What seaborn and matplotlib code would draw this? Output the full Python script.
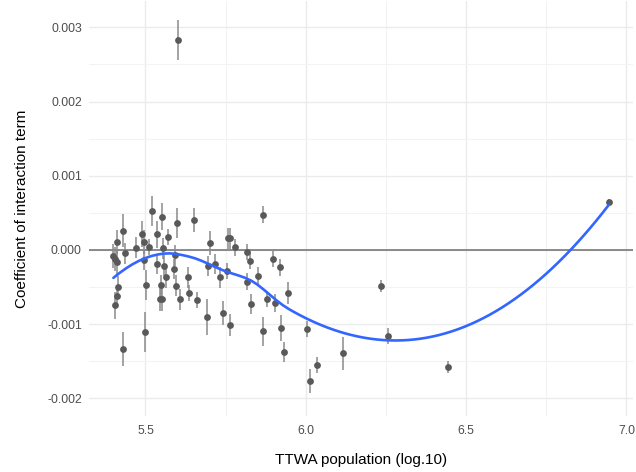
import numpy as np
import pandas as pd
import matplotlib
matplotlib.use("Agg")
import matplotlib.pyplot as plt
import seaborn as sns
from matplotlib.ticker import FuncFormatter, MultipleLocator

# ---- data ----
log_pop = [5.400, 5.405, 5.412, 5.410, 5.415, 5.412, 5.404, 5.430, 5.436, 5.431,
           5.470, 5.489, 5.495, 5.496, 5.502, 5.499, 5.510, 5.519, 5.535, 5.537,
           5.552, 5.548, 5.545, 5.552, 5.555, 5.558, 5.563, 5.569, 5.592, 5.589,
           5.596, 5.597, 5.600, 5.607, 5.633, 5.636, 5.652, 5.660, 5.691, 5.696,
           5.701, 5.717, 5.732, 5.741, 5.753, 5.757, 5.763, 5.763, 5.779, 5.818,
           5.826, 5.816, 5.830, 5.851, 5.867, 5.865, 5.879, 5.899, 5.905, 5.919,
           5.922, 5.933, 5.945, 6.003, 6.012, 6.036, 6.116, 6.234, 6.255, 6.442,
           6.945]
coef = [-0.000081, -0.000125, -0.000166, 0.000104, -0.000495, -0.000620, -0.000745, 0.000260, -0.000044, -0.001334,
        0.000031, 0.000216, 0.000104, -0.000135, -0.000468, -0.001105, 0.000036, 0.000526, -0.000189, 0.000212,
        0.000449, -0.000476, -0.000656, -0.000660, 0.000023, -0.000212, -0.000368, 0.000171, -0.000071, -0.000256,
        -0.000481, 0.000368, 0.002830, -0.000664, -0.000368, -0.000584, 0.000404, -0.000678, -0.000899, -0.000216,
        0.000090, -0.000189, -0.000368, -0.000853, -0.000283, 0.000155, 0.000155, -0.001015, 0.000034, -0.000027,
        -0.000144, -0.000425, -0.000728, -0.000344, 0.000478, -0.001098, -0.000664, -0.000125, -0.000710, -0.000236,
        -0.001051, -0.001375, -0.000584, -0.001065, -0.001761, -0.001554, -0.001392, -0.000481, -0.001163, -0.001573,
        0.000651]
half_ci = [0.00016, 0.00016, 0.00016, 0.00016, 0.00014, 0.00014, 0.00018, 0.00022, 0.00014, 0.00023,
           0.00014, 0.00018, 0.00016, 0.00014, 0.00020, 0.00027, 0.00011, 0.00020, 0.00014, 0.00018,
           0.00018, 0.00014, 0.00016, 0.00016, 0.00014, 0.00014, 0.00014, 0.00011, 0.00014, 0.00014,
           0.00014, 0.00020, 0.00027, 0.00014, 0.00014, 0.00011, 0.00016, 0.00011, 0.00024, 0.00014,
           0.00016, 0.00014, 0.00014, 0.00016, 0.00011, 0.00014, 0.00014, 0.00015, 0.00011, 0.00011,
           0.00011, 0.00011, 0.00014, 0.00011, 0.00011, 0.00020, 0.00011, 0.00011, 0.00012, 0.00012,
           0.00018, 0.00014, 0.00015, 0.00011, 0.00016, 0.00011, 0.00022, 0.00008, 0.00011, 0.00008,
           0.00004]

x_ticks = [5.5, 6.0, 6.5, 7.0]
y_ticks = [-0.002, -0.001, 0.000, 0.001, 0.002, 0.003]

df = pd.DataFrame({"log_pop": log_pop, "coef": coef, "half_ci": half_ci})
df["lo"] = df["coef"] - df["half_ci"]
df["hi"] = df["coef"] + df["half_ci"]


# ---- loess (degree 2, span 0.75) with kd-tree vertices + Hermite interpolation, like R ----
def local_fit(x, y, x0, q):
    d = np.abs(x - x0)
    h = np.sort(d)[q - 1]
    w = np.clip(1 - (d / h) ** 3, 0, None) ** 3
    X = np.vstack([np.ones(len(x)), x - x0, (x - x0) ** 2]).T
    sw = np.sqrt(w)
    beta = np.linalg.lstsq(X * sw[:, None], y * sw, rcond=None)[0]
    return beta[0], beta[1]


def loess_interp(x, y, xs, span=0.75, cell=0.2):
    x = np.asarray(x, float)
    y = np.asarray(y, float)
    n = len(x)
    q = int(np.floor(n * span + 1e-5))
    fc = int(np.floor(n * span * cell))
    xsorted = np.sort(x)
    rng = xsorted[-1] - xsorted[0]
    lo_b = xsorted[0] - 0.005 * rng
    hi_b = xsorted[-1] + 0.005 * rng
    verts = {lo_b, hi_b}

    def split(l, u, vlo, vhi):
        if (u - l + 1) <= fc:
            return
        m = (l + u) // 2
        offset = 0
        while l <= m + offset < u:
            if xsorted[m + offset - 1] == xsorted[m + offset]:
                offset = -offset
                if offset >= 0:
                    offset += 1
            else:
                m = m + offset
                break
        xi = xsorted[m - 1]
        if xi == vlo or xi == vhi:
            return
        verts.add(xi)
        split(l, m, vlo, xi)
        split(m + 1, u, xi, vhi)

    split(1, n, lo_b, hi_b)
    v = np.array(sorted(verts))
    vals = np.array([local_fit(x, y, vv, q) for vv in v])
    f, s = vals[:, 0], vals[:, 1]
    out = []
    for x0 in xs:
        i = min(np.searchsorted(v, x0, side="right") - 1, len(v) - 2)
        i = max(i, 0)
        a, b = v[i], v[i + 1]
        hh = b - a
        t = (x0 - a) / hh
        h00 = 2 * t**3 - 3 * t**2 + 1
        h10 = t**3 - 2 * t**2 + t
        h01 = -2 * t**3 + 3 * t**2
        h11 = t**3 - t**2
        out.append(h00 * f[i] + h10 * hh * s[i] + h01 * f[i + 1] + h11 * hh * s[i + 1])
    return np.array(out)


grid_x = np.linspace(df["log_pop"].min(), df["log_pop"].max(), 80)
smooth = pd.DataFrame({"log_pop": grid_x,
                       "fit": loess_interp(df["log_pop"], df["coef"], grid_x)})

# ---- plot ----
sns.set_theme(style="whitegrid")
plt.rcParams["font.family"] = ["Liberation Sans", "DejaVu Sans"]

fig = plt.figure(figsize=(6.36, 4.72), dpi=100)
ax = fig.add_axes([88.7 / 636, 1 - 416.2 / 472, (632.9 - 88.7) / 636, (416.2 - 1.4) / 472])
ax.set_facecolor("white")

ax.axhline(0, color="#6e6e6e", lw=1.1, zorder=1)
ax.vlines(df["log_pop"], df["lo"], df["hi"], color="#8a8a8a", lw=1.1, zorder=2)
sns.scatterplot(data=df, x="log_pop", y="coef", ax=ax, color="#595959", s=24,
                linewidth=0, zorder=3, legend=False)
sns.lineplot(data=smooth, x="log_pop", y="fit", ax=ax, color="#3366FF", lw=1.9,
             zorder=4, legend=False)

ax.set_xlim(5.323, 7.02)
ax.set_ylim(-0.00224, 0.00335)
ax.set_xticks(x_ticks)
ax.set_yticks(y_ticks)
ax.xaxis.set_minor_locator(MultipleLocator(0.25))
ax.yaxis.set_minor_locator(MultipleLocator(0.0005))
ax.xaxis.set_major_formatter(FuncFormatter(lambda v, p: f"{v:.1f}"))
ax.yaxis.set_major_formatter(FuncFormatter(lambda v, p: f"{v:.3f}"))

ax.grid(which="major", color="#EBEBEB", lw=1.0)
ax.grid(which="minor", color="#F3F3F3", lw=0.8)
ax.set_axisbelow(True)
for s in ax.spines.values():
    s.set_visible(False)
ax.tick_params(which="both", length=0)
ax.tick_params(axis="x", pad=6, labelsize=8.8, labelcolor="#4D4D4D")
ax.tick_params(axis="y", pad=5, labelsize=8.8, labelcolor="#4D4D4D")

ax.set_xlabel("TTWA population (log.10)", fontsize=11, color="black", labelpad=12)
ax.set_ylabel("Coefficient of interaction term", fontsize=11, color="black", labelpad=13)

fig.savefig("out.png", dpi=100)
